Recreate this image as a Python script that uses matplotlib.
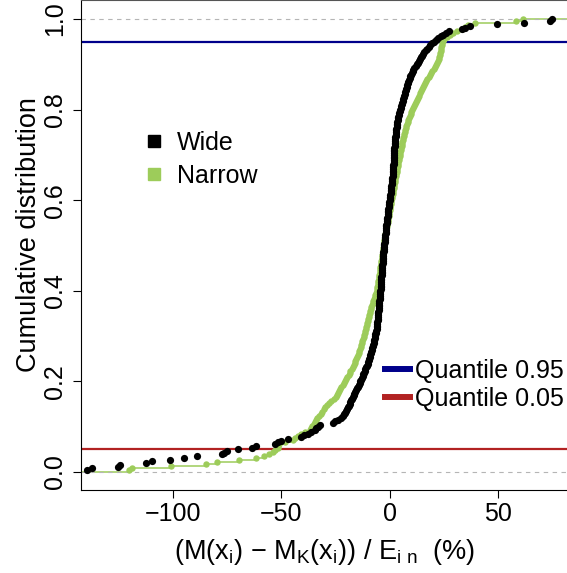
import numpy as np
import matplotlib
matplotlib.use('Agg')
import matplotlib.pyplot as plt
from matplotlib.lines import Line2D

# relative errors (%)
wide = [
    -139.7, -137.3, -125.3, -124.2, -112.3, -109.7, -101.2, -95.0, -88.9, -77.2,
    -76.4, -75.3, -70.2, -63.8, -61.7, -53.2, -51.7, -50.1, -47.1, -40.9,
    -39.4, -37.8, -36.3, -34.7, -34.0, -33.2, -32.4, -26.4, -25.2, -23.8,
    -22.4, -21.5, -21.1, -20.6, -20.2, -19.7, -19.3, -18.9, -18.6, -18.2,
    -17.9, -17.5, -17.1, -16.8, -16.4, -16.0, -15.6, -15.2, -14.8, -14.4,
    -14.0, -13.6, -13.2, -12.9, -12.6, -12.3, -12.0, -11.6, -11.3, -11.0,
    -10.7, -10.3, -10.0, -9.8, -9.6, -9.3, -9.1, -8.8, -8.6, -8.3,
    -8.1, -7.9, -7.7, -7.5, -7.4, -7.2, -7.0, -6.9, -6.7, -6.5,
    -6.4, -6.2, -6.0, -5.9, -5.9, -5.8, -5.7, -5.6, -5.5, -5.5,
    -5.4, -5.3, -5.2, -5.1, -5.1, -5.0, -4.9, -4.9, -4.8, -4.7,
    -4.6, -4.6, -4.5, -4.4, -4.34, -4.28, -4.22, -4.15, -4.09, -4.03,
    -3.97, -3.91, -3.85, -3.78, -3.72, -3.66, -3.60, -3.54, -3.48, -3.42,
    -3.35, -3.29, -3.23, -3.16, -3.07, -2.99, -2.90, -2.82, -2.73, -2.65,
    -2.56, -2.48, -2.39, -2.30, -2.22, -2.13, -2.05, -1.96, -1.88, -1.79,
    -1.71, -1.62, -1.54, -1.45, -1.35, -1.24, -1.13, -1.02, -0.91, -0.80,
    -0.69, -0.59, -0.48, -0.37, -0.26, -0.15, -0.04, 0.07, 0.18, 0.29,
    0.40, 0.50, 0.59, 0.69, 0.78, 0.87, 0.97, 1.06, 1.15, 1.25,
    1.34, 1.42, 1.47, 1.52, 1.56, 1.61, 1.66, 1.71, 1.75, 1.80,
    1.85, 1.89, 1.94, 1.99, 2.03, 2.08, 2.13, 2.18, 2.22, 2.27,
    2.34, 2.45, 2.56, 2.66, 2.77, 2.87, 2.98, 3.08, 3.19, 3.30,
    3.40, 3.51, 3.61, 3.74, 3.98, 4.22, 4.46, 4.70, 4.94, 5.18,
    5.42, 5.66, 5.90, 6.13, 6.36, 6.59, 6.83, 7.06, 7.29, 7.53,
    7.76, 7.99, 8.22, 8.51, 8.83, 9.14, 9.46, 9.78, 10.09, 10.41,
    10.8, 11.3, 11.8, 12.3, 12.8, 13.3, 13.7, 14.2, 14.6, 15.1,
    15.6, 16.4, 17.1, 17.8, 18.5, 19.2, 20.2, 21.2, 22.2, 23.3,
    24.6, 26.0, 27.3, 33.2, 34.7, 36.7, 49.4, 62.0, 73.8, 74.9,
]

narrow = [
    -120.4, -119.0, -100.9, -84.9, -79.5, -69.4, -61.7, -57.9, -55.6, -54.0,
    -53.2, -51.7, -51.5, -51.1, -48.6, -44.8, -43.6, -42.4, -41.2, -39.2,
    -37.0, -36.4, -35.8, -35.2, -34.6, -34.0, -33.4, -32.8, -32.0, -31.3,
    -30.6, -29.8, -28.9, -28.0, -27.0, -25.9, -24.9, -24.2, -23.8, -23.4,
    -22.9, -22.4, -21.8, -21.2, -20.7, -20.2, -19.7, -19.1, -18.6, -18.2,
    -17.7, -17.2, -16.7, -16.2, -15.9, -15.5, -15.1, -14.8, -14.4, -14.1,
    -13.8, -13.5, -13.2, -13.0, -12.7, -12.4, -12.1, -11.9, -11.6, -11.4,
    -11.2, -11.0, -10.8, -10.5, -10.3, -10.1, -9.8, -9.6, -9.3, -9.1,
    -8.8, -8.6, -8.3, -8.0, -7.7, -7.4, -7.1, -6.8, -6.4, -6.1,
    -5.92, -5.78, -5.64, -5.50, -5.36, -5.22, -5.08, -4.94, -4.80, -4.65,
    -4.51, -4.37, -4.23, -4.09, -3.95, -3.81, -3.67, -3.53, -3.39, -3.25,
    -3.11, -2.97, -2.83, -2.69, -2.55, -2.41, -2.26, -2.09, -1.93, -1.76,
    -1.60, -1.43, -1.27, -1.10, -0.94, -0.77, -0.61, -0.44, -0.28, -0.11,
    0.05, 0.22, 0.38, 0.55, 0.71, 0.88, 1.04, 1.21, 1.37, 1.54,
    1.70, 1.87, 2.03, 2.20, 2.36, 2.53, 2.69, 2.86, 3.02, 3.19,
    3.37, 3.55, 3.73, 3.91, 4.09, 4.27, 4.45, 4.63, 4.81, 4.99,
    5.17, 5.35, 5.53, 5.75, 5.98, 6.21, 6.45, 6.68, 6.91, 7.14,
    7.38, 7.61, 7.84, 8.15, 8.48, 8.82, 9.15, 9.48, 9.82, 10.15,
    10.48, 10.9, 11.4, 11.9, 12.4, 12.8, 13.3, 13.8, 14.2, 14.7,
    15.2, 15.7, 16.2, 16.7, 17.3, 17.9, 18.4, 19.0, 19.6, 20.2,
    20.7, 21.2, 21.7, 22.1, 22.5, 22.7, 22.9, 23.1, 23.3, 23.5,
    23.7, 23.8, 24.0, 24.3, 24.8, 26.2, 27.6, 29.2, 30.8, 33.0,
    34.5, 36.0, 39.4, 58.3, 61.1,
]

quantiles = [0.95, 0.05]
quantile_labels = ['Quantile 0.95', 'Quantile 0.05']
series_labels = ['Wide', 'Narrow']

green = '#9dcc5a'
qcols = ['#00008B', '#B22222']

plt.rcParams['font.family'] = ['Liberation Sans', 'DejaVu Sans']
plt.rcParams['mathtext.fontset'] = 'custom'
plt.rcParams['mathtext.rm'] = 'Liberation Sans'
plt.rcParams['mathtext.it'] = 'Liberation Sans:italic'
plt.rcParams['mathtext.default'] = 'regular'
fs = 18
fs_lab = 19.5

fig = plt.figure(figsize=(5.67, 5.73), dpi=100)
ax = fig.add_axes([81 / 567, 83 / 573, 486 / 567, 490 / 573])

# ecdf of the narrow prior: step line + points
xn = np.sort(narrow)
yn = np.arange(1, len(xn) + 1) / len(xn)
ax.hlines(np.r_[0, yn], np.r_[-1000, xn], np.r_[xn, 1000], color=green, lw=1.1, zorder=2)
ax.plot(xn, yn, 'o', ms=4.6, color=green, mec='none', zorder=3)

# ecdf of the wide prior: points only
xw = np.sort(wide)
yw = np.arange(1, len(xw) + 1) / len(xw)
ax.plot(xw, yw, 'o', ms=5.2, color='black', mec='none', zorder=4)

for lev in [0, 1]:
    ax.axhline(lev, color='#b5b5b5', lw=0.8, ls=(0, (4, 4)), zorder=2.5)
for q, c in zip(quantiles, qcols):
    ax.axhline(q, color=c, lw=1.6, zorder=1.5)

ax.set_xlim(-142.4, 81.6)
ax.set_ylim(-0.04, 1.042)
ax.set_xticks([-100, -50, 0, 50])
ax.set_yticks([0, 0.2, 0.4, 0.6, 0.8, 1.0])
ax.set_yticklabels(['0.0', '0.2', '0.4', '0.6', '0.8', '1.0'], rotation=90, va='center')
ax.tick_params(direction='out', length=5.8, width=0.8, labelsize=fs)
ax.tick_params(axis='x', pad=3)
ax.tick_params(axis='y', pad=4)
ax.spines['right'].set_visible(False)
ax.spines['top'].set_color('#555555')
for s in ['left', 'bottom', 'top']:
    ax.spines[s].set_linewidth(0.8)

ax.set_ylabel('Cumulative distribution', fontsize=fs_lab)
ax.yaxis.set_label_coords(-0.081, 0.522)
ax.set_xlabel(r'(M(x$_{i}$) $-$ M$_{K}$(x$_{i}$)) / E$_{i\ n}$  (%)', fontsize=fs_lab)
ax.xaxis.set_label_coords(0.5, -0.096)

h1 = [Line2D([], [], ls='none', marker='s', ms=9, color=c) for c in ['black', green]]
fig.legend(h1, series_labels, loc='upper left', bbox_to_anchor=(141 / 567, 1 - 131 / 573),
           frameon=False, fontsize=fs, handlelength=1.0, handletextpad=0.44,
           labelspacing=0.35, borderpad=0, borderaxespad=0)
h2 = [Line2D([], [], color=c, lw=4.3) for c in qcols]
fig.legend(h2, quantile_labels, loc='upper left', bbox_to_anchor=(385 / 567, 1 - 359 / 573),
           frameon=False, fontsize=fs, handlelength=1.0, handletextpad=0.2,
           labelspacing=0.15, borderpad=0, borderaxespad=0)

fig.savefig('out.png', dpi=100)
